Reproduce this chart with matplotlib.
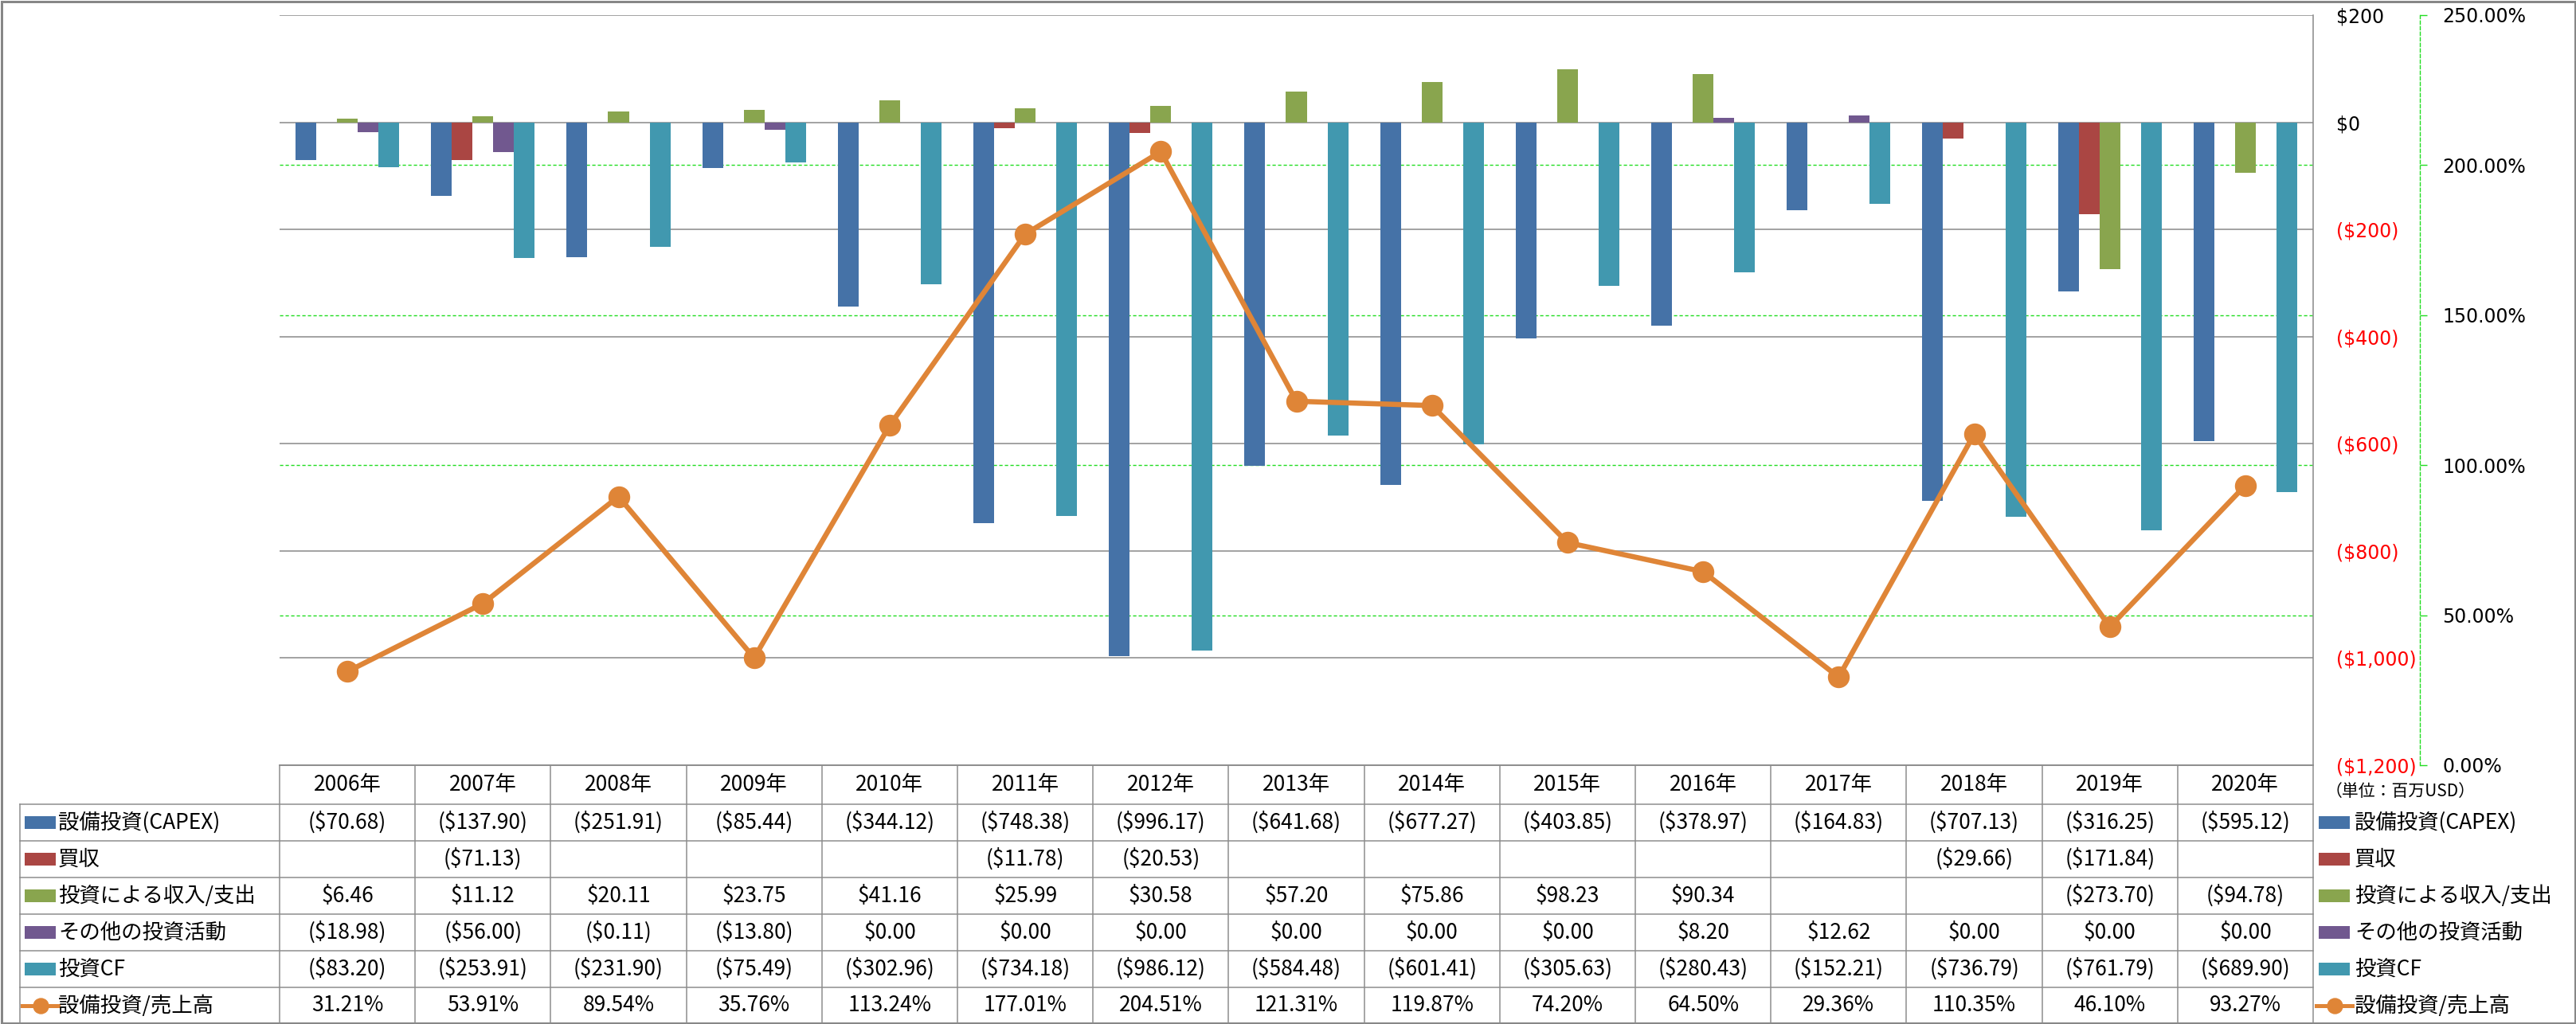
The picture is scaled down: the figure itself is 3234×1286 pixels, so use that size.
import numpy as np
import matplotlib
matplotlib.use('Agg')
import matplotlib.pyplot as plt
from matplotlib.ticker import FuncFormatter, MultipleLocator
from matplotlib.lines import Line2D
from matplotlib.patches import Rectangle

plt.rcParams['font.family'] = ['Noto Sans CJK JP', 'DejaVu Sans']

# data (百万USD)
years = ['2006年', '2007年', '2008年', '2009年', '2010年', '2011年', '2012年', '2013年',
         '2014年', '2015年', '2016年', '2017年', '2018年', '2019年', '2020年']
capex = [-70.68, -137.90, -251.91, -85.44, -344.12, -748.38, -996.17, -641.68,
         -677.27, -403.85, -378.97, -164.83, -707.13, -316.25, -595.12]
acquisition = [np.nan, -71.13, np.nan, np.nan, np.nan, -11.78, -20.53, np.nan,
               np.nan, np.nan, np.nan, np.nan, -29.66, -171.84, np.nan]
investment_income = [6.46, 11.12, 20.11, 23.75, 41.16, 25.99, 30.58, 57.20,
                     75.86, 98.23, 90.34, np.nan, np.nan, -273.70, -94.78]
other_investing = [-18.98, -56.00, -0.11, -13.80, 0.00, 0.00, 0.00, 0.00,
                   0.00, 0.00, 8.20, 12.62, 0.00, 0.00, 0.00]
investing_cf = [-83.20, -253.91, -231.90, -75.49, -302.96, -734.18, -986.12, -584.48,
                -601.41, -305.63, -280.43, -152.21, -736.79, -761.79, -689.90]
capex_ratio = [31.21, 53.91, 89.54, 35.76, 113.24, 177.01, 204.51, 121.31,
               119.87, 74.20, 64.50, 29.36, 110.35, 46.10, 93.27]

bar_series = [capex, acquisition, investment_income, other_investing, investing_cf]
series_names = ['設備投資(CAPEX)', '買収', '投資による収入/支出', 'その他の投資活動', '投資CF']
line_name = '設備投資/売上高'
unit_label = '（単位：百万USD）'

bar_colors = ['#4572A7', '#AA4643', '#89A54E', '#71588F', '#4198AF']
line_color = '#DF8537'
grid_gray = '#878787'
green = '#22DD22'

W, H, DPI = 3234, 1286, 100
px = 72 / DPI  # points per pixel

fig = plt.figure(figsize=(W / DPI, H / DPI), dpi=DPI)

plot_l, plot_r, plot_t, plot_b = 351, 2904, 19, 961
ax = fig.add_axes([plot_l / W, 1 - plot_b / H, (plot_r - plot_l) / W, (plot_b - plot_t) / H])

x = np.arange(len(years))
w = 0.153
for i, (vals, c) in enumerate(zip(bar_series, bar_colors)):
    v = np.array(vals, dtype=float)
    ok = ~np.isnan(v)
    ax.bar(x[ok] + (i - 2) * w, v[ok], width=w, color=c, zorder=3)

ax.set_xlim(-0.5, len(years) - 0.5)
ax.set_ylim(-1200, 200)
ax.set_xticks([])
ax.grid(axis='y', color=grid_gray, lw=1.5 * px)
ax.set_axisbelow(True)
for s in ['left', 'top']:
    ax.spines[s].set_visible(False)
for s in ['right', 'bottom']:
    ax.spines[s].set_color(grid_gray)
    ax.spines[s].set_linewidth(1.5 * px)

# secondary axis (percent)
ax2 = ax.twinx()
ax2.set_ylim(0, 250)
ax2.yaxis.set_major_locator(MultipleLocator(50))
ax2.yaxis.set_major_formatter(FuncFormatter(lambda v, _: f'{v:.2f}%'))
for s in ['left', 'top', 'bottom']:
    ax2.spines[s].set_visible(False)
ax2.spines['right'].set_position(('outward', 134 * px))
ax2.spines['right'].set_color(green)
ax2.spines['right'].set_linestyle((0, (3, 2)))
ax2.spines['right'].set_linewidth(1.4 * px)
ax2.tick_params(axis='y', length=9 * px, width=1.4 * px, color=green, pad=19 * px,
                labelsize=17, labelfontfamily='DejaVu Sans')


def money(v):
    return f'(${abs(v):,.0f})' if v < 0 else f'${v:,.0f}'


# primary axis labels sit on the right too (twinx moved them left)
ticks = np.arange(-1200, 201, 200)
ax.yaxis.tick_right()
ax.set_yticks(ticks, [money(t) for t in ticks])
ax.tick_params(axis='y', left=False, labelleft=False, right=True, labelright=True,
               length=0, pad=29 * px, labelsize=17, labelfontfamily='DejaVu Sans')
for lab, t in zip(ax.get_yticklabels(), ticks):
    lab.set_color('#FF0000' if t < 0 else 'black')

# green gridlines of the secondary axis, kept behind the bars
lo, hi = ax.get_ylim()
for p in ax2.get_yticks():
    if 0 < p < 250:
        ax.axhline(lo + p / 250 * (hi - lo), color=green, lw=1.4 * px, ls=(0, (3, 2)), zorder=1)

ax2.plot(x, capex_ratio, color=line_color, lw=6.5 * px, marker='o', ms=26 * px,
         markeredgecolor=line_color, zorder=4)

# data table drawn in pixel coordinates
tab = fig.add_axes([0, 0, 1, 1])
tab.set_xlim(0, W)
tab.set_ylim(H, 0)
tab.axis('off')

col0, ncol = plot_l, len(years)
colw = (plot_r - plot_l) / ncol
label_left = 25
hdr_top, row_top0, rowh = plot_b, 1010, 46
nrows = 6
tab_bottom = row_top0 + nrows * rowh
line_kw = dict(color='#8C8C8C', lw=1.5 * px)

tab.plot([col0, plot_r], [hdr_top, hdr_top], **line_kw)
for r in range(nrows):
    yy = row_top0 + r * rowh
    tab.plot([label_left, plot_r], [yy, yy], **line_kw)
for k in range(ncol + 1):
    xx = col0 + k * colw
    tab.plot([xx, xx], [hdr_top, tab_bottom], **line_kw)
tab.plot([label_left, label_left], [row_top0, tab_bottom], **line_kw)

fs = 19
for k, yr in enumerate(years):
    tab.text(col0 + (k + 0.5) * colw, (hdr_top + row_top0) / 2, yr, ha='center',
             va='center', fontsize=fs)


def dollar_cell(v):
    if np.isnan(v):
        return ''
    return f'(${abs(v):,.2f})' if v < 0 else f'${v:,.2f}'


rows = [[dollar_cell(v) for v in vals] for vals in bar_series]
rows.append([f'{v:.2f}%' for v in capex_ratio])
names = series_names + [line_name]


def legend_key(x0, yc, r):
    if r < len(bar_colors):
        tab.add_patch(Rectangle((x0, yc - 8), 39, 16, color=bar_colors[r], lw=0))
    else:
        tab.add_line(Line2D([x0 - 3, x0 + 42], [yc, yc], color=line_color, lw=5 * px))
        tab.add_line(Line2D([x0 + 19.5], [yc], color=line_color, marker='o', ms=19 * px,
                            markeredgecolor=line_color))


for r, (name, cells) in enumerate(zip(names, rows)):
    yc = row_top0 + (r + 0.5) * rowh
    legend_key(31, yc, r)
    tab.text(73, yc, name, ha='left', va='center', fontsize=fs)
    for k, s in enumerate(cells):
        tab.text(col0 + (k + 0.5) * colw, yc, s, ha='center', va='center', fontsize=fs)
    # legend on the right
    legend_key(2911, yc, r)
    tab.text(2956, yc, name, ha='left', va='center', fontsize=fs)

tab.text(2920, 994, unit_label, ha='left', va='center', fontsize=15)

# chart border
tab.add_patch(Rectangle((1.5, 1.5), W - 3, H - 3, fill=False, edgecolor=grid_gray, lw=3 * px))

fig.savefig('out.png', dpi=DPI)
